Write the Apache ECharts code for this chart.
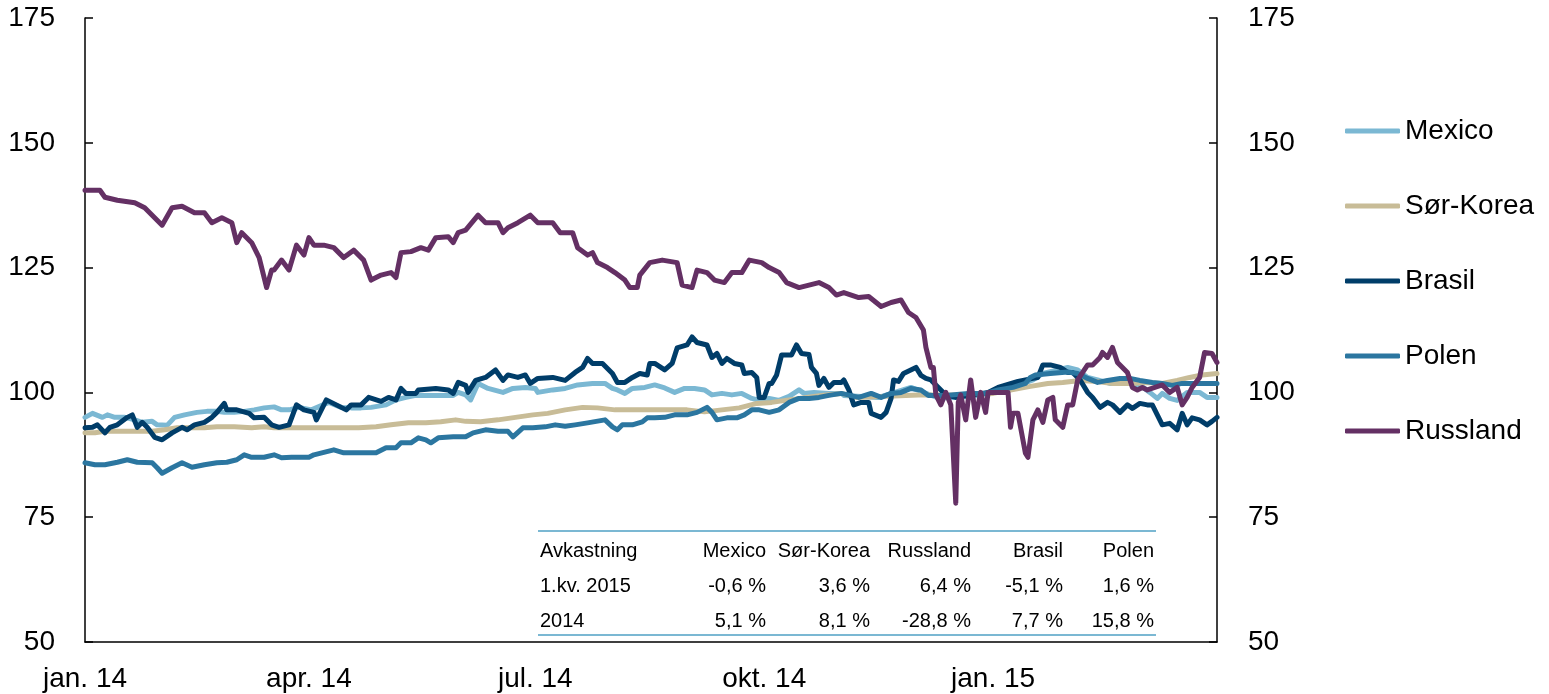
<!DOCTYPE html>
<html lang="no">
<head>
    <meta charset="UTF-8">
    <title>Aksjeindekser fremvoksende økonomier</title>
    <script src="https://cdn.jsdelivr.net/npm/echarts@6/dist/echarts.min.js"></script>
</head>
<style>
    html, body{
        margin:0;
        padding:0;
        background:#fff;
    }
    #main{
        width:1549px;
        height:694px;
    }
</style>
<body>
<div id="main"></div>
</body>
<script>
    // dager etter 1.1.2014, indeks
    var mexico = [[0,95],[3,95.8],[7,95],[9,95.5],[12,95],[16,95],[20,94.5],[23,94],[27,94.2],[29,93.5],[33,93.4],[36,95],[40,95.5],[45,96],[49,96.2],[53,96.2],[56,96],[60,96],[64,96.2],[68,96.5],[72,96.9],[76,97.1],[79,96.5],[82,96.5],[86,97],[91,96.5],[98,98],[103,97],[107,96.9],[111,96.9],[115,97],[121,97.5],[125,98.5],[129,99],[133,99.4],[138,99.4],[143,99.4],[148,99.4],[150,100],[153,99.5],[155,98.5],[158,101.8],[162,100.8],[168,100],[172,100.8],[177,101],[181,100.8],[182,100],[188,100.5],[193,100.8],[198,101.5],[204,101.8],[209,101.8],[212,100.8],[214,100.5],[217,99.8],[220,100.8],[225,101],[229,101.5],[233,100.9],[237,100],[241,100.8],[245,100.8],[249,100.5],[252,99.5],[256,99.8],[260,99.5],[264,99.8],[268,98.8],[271,98.4],[275,98.8],[279,98.4],[283,99.2],[287,100.5],[289,99.8],[293,100],[299,99.8],[304,99.8],[305,99.4],[319,99],[332,101],[338,99.8],[343,98.9],[350,99],[359,99.4],[366,100],[373,101],[381,102.5],[385,103.8],[391,104.5],[395,105],[399,104.5],[403,103],[407,102.5],[412,101.8],[420,101.8],[424,101.5],[428,100],[431,98.8],[433,99.8],[436,98.8],[439,98.4],[443,100],[448,100],[451,99],[455,99]];
    var sorKorea = [[0,91.9],[4,91.9],[8,92.2],[13,92.2],[20,92.2],[27,92.2],[32,92.5],[37,92.9],[43,92.9],[48,92.9],[53,93.1],[60,93.1],[67,92.9],[72,93.1],[76,92.9],[83,92.9],[90,92.9],[96,92.9],[103,92.9],[110,92.9],[117,93.1],[123,93.5],[130,93.9],[137,93.9],[143,94.1],[149,94.5],[153,94.2],[159,94.1],[166,94.5],[173,95],[180,95.5],[186,95.8],[193,96.5],[200,97],[206,96.9],[213,96.5],[220,96.5],[229,96.5],[236,96.5],[242,96.5],[249,96.1],[256,96.5],[263,96.9],[270,97.8],[276,98],[283,98.5],[290,99],[296,99.4],[304,99.8],[310,99],[320,99.2],[335,99.5],[350,99.5],[365,99.8],[380,101.2],[387,101.8],[393,102],[400,102.4],[407,102.2],[413,101.8],[420,101.8],[427,102],[433,101.8],[439,102.4],[444,103],[449,103.5],[455,103.8]];
    var brasil = [[0,92.9],[3,93],[5,93.5],[8,91.9],[10,93],[13,93.5],[17,95],[19,95.5],[21,93],[23,94],[25,93],[28,91],[31,90.5],[35,91.9],[39,93],[41,92.5],[44,93.5],[48,94],[51,95],[53,96],[56,97.8],[57,96.5],[61,96.5],[66,95.8],[68,94.9],[72,95],[75,93.5],[78,93],[82,93.5],[85,97.5],[88,96.5],[92,96],[93,94.5],[97,98.5],[101,97.5],[105,96.5],[107,97.5],[111,97.5],[114,99],[119,98.2],[122,99],[125,98.5],[127,100.8],[129,99.8],[133,99.8],[134,100.5],[141,100.8],[146,100.5],[148,99.8],[150,102],[153,101.4],[154,100],[157,102.4],[161,103],[165,104.5],[168,102.4],[170,103.5],[174,103],[177,103.5],[179,101.8],[182,102.8],[188,103],[193,102.4],[197,104],[200,105],[202,106.8],[204,105.8],[208,105.8],[212,103.8],[214,102],[217,102],[220,103],[223,103.8],[226,103.5],[227,105.8],[229,105.8],[233,104.5],[236,105.8],[238,108.9],[242,109.5],[244,111.1],[246,110],[250,109.5],[252,107],[254,107.8],[256,105.8],[258,106.8],[261,105.8],[264,105.5],[265,103.8],[268,104],[270,103],[271,99],[273,99],[275,101.8],[276,101.8],[278,103.5],[280,107.5],[284,107.5],[286,109.5],[288,107.8],[291,107.6],[292,105],[294,103.8],[295,101.4],[297,102.8],[299,101],[301,102],[304,102],[305,102.5],[307,100.5],[309,97.5],[312,98],[315,98],[316,95.8],[320,95],[322,96],[324,98.8],[325,102.5],[327,102.2],[329,103.8],[334,105],[336,103.4],[338,102.8],[340,102.5],[343,101],[346,99.5],[350,99],[357,99.5],[363,100],[367,101],[375,102.2],[381,102.8],[383,103],[385,105.5],[388,105.5],[392,105],[395,104],[397,104],[400,102.5],[403,100],[405,99],[408,97],[411,98],[413,97.5],[416,96],[419,97.5],[421,96.8],[424,97.8],[427,97.5],[429,97.5],[431,95.5],[433,93.5],[436,93.8],[439,92.5],[441,95.8],[443,93.5],[445,94.9],[448,94.5],[451,93.5],[453,94.2],[455,95]];
    var polen = [[0,85.9],[4,85.5],[8,85.5],[13,86],[17,86.5],[21,86],[27,85.9],[29,84.9],[31,83.8],[35,84.9],[39,85.9],[43,85],[48,85.5],[53,85.9],[57,86],[61,86.5],[64,87.5],[67,87],[72,87],[76,87.5],[79,86.9],[83,87],[90,87],[92,87.5],[96,88],[100,88.5],[104,87.9],[110,87.9],[117,87.9],[121,88.9],[125,88.9],[127,89.9],[131,89.9],[134,90.9],[137,90.5],[139,89.9],[142,90.9],[148,91.1],[153,91.1],[156,91.9],[161,92.5],[166,92.2],[170,92.2],[172,91.1],[176,92.9],[180,92.9],[185,93.1],[189,93.5],[193,93.2],[197,93.5],[202,93.9],[209,94.5],[212,93.1],[214,92.5],[216,93.5],[220,93.5],[224,94.1],[226,94.9],[229,94.9],[233,95],[237,95.5],[242,95.5],[246,96],[250,97],[252,96],[254,94.5],[258,94.9],[262,94.9],[265,95.5],[268,96.5],[271,96.5],[275,96],[279,96.5],[283,98],[287,98.8],[291,98.8],[295,99],[299,99.4],[304,99.8],[311,99],[316,99.8],[320,99],[324,99.8],[328,100],[332,100.8],[336,100.5],[339,99.4],[346,99.4],[355,99.8],[362,99.8],[367,100.5],[373,101],[378,101.8],[380,103],[382,103.5],[388,103.8],[395,104.1],[399,103.8],[403,102.8],[407,102],[411,102.4],[416,102.8],[420,102.8],[424,102.4],[429,102],[433,101.8],[437,101.4],[441,101.8],[447,101.8],[452,101.8],[455,101.8]];
    var russland = [[0,140.5],[6,140.5],[8,139.1],[13,138.5],[20,138],[24,137],[31,133.5],[35,137],[39,137.3],[44,136],[48,136],[51,134],[55,135],[59,134],[61,130],[63,132],[67,130],[70,127],[73,121],[75,124.5],[76,124.5],[79,126.5],[82,124.5],[85,129.5],[88,127.5],[90,131],[92,129.5],[96,129.5],[100,129],[104,127],[108,128.5],[112,126.5],[115,122.5],[119,123.5],[123,124],[125,123],[127,128],[131,128.2],[135,129],[138,128.5],[141,131],[146,131.2],[148,130],[150,132],[153,132.5],[158,135.5],[161,134],[166,134],[168,132],[170,133],[174,134],[179,135.5],[182,134],[188,134],[191,132],[196,132],[198,129],[202,127.5],[204,128],[206,126],[210,125],[213,124],[217,122.5],[219,121],[222,121],[223,123.5],[227,126],[232,126.5],[238,126],[240,121.5],[244,121],[246,124.5],[250,124],[253,122.5],[257,122],[260,124],[264,124],[267,126.5],[272,126],[275,125],[279,124],[282,122],[287,121],[291,121.5],[295,122],[299,121],[302,119.5],[305,120],[311,119],[315,119.2],[320,117.2],[324,118],[328,118.5],[331,116],[334,115],[337,112.5],[338,109],[340,105],[341,105],[342,99.5],[344,97.5],[346,100],[348,97.5],[350,77.8],[351,98],[352,99.5],[354,94.5],[356,102.5],[358,95],[360,100],[362,96],[363,100],[371,100],[372,93],[373,95.8],[375,95.8],[378,87.8],[379,87],[381,94.5],[383,96.5],[385,94],[387,98.5],[389,99],[390,94.5],[393,93],[395,97.5],[397,97.5],[399,102.5],[401,104],[403,105.5],[405,105.5],[408,107],[409,108],[411,107],[413,109],[415,106],[419,104],[421,101],[423,100.5],[425,101],[427,100.5],[430,101],[433,101.5],[436,100],[439,101],[441,97.5],[443,99],[445,101],[448,103],[450,108],[453,107.8],[455,106]];

    var seriesNames = ['Mexico', 'Sør-Korea', 'Brasil', 'Polen', 'Russland'];
    var seriesData = [mexico, sorKorea, brasil, polen, russland];
    var seriesColors = ['#7bb8d3', '#c8bc97', '#003d69', '#2b76a0', '#643064'];

    // dag nr. for 1.1.14, 1.4.14, 1.7.14, 1.10.14, 1.1.15
    var xTickDays = [0, 90, 181, 273, 365];
    var xTickLabels = ['jan. 14', 'apr. 14', 'jul. 14', 'okt. 14', 'jan. 15'];

    var tableHeader = ['Avkastning', 'Mexico', 'Sør-Korea', 'Russland', 'Brasil', 'Polen'];
    var tableRows = [
        ['1.kv. 2015', '-0,6 %', '3,6 %', '6,4 %', '-5,1 %', '1,6 %'],
        ['2014', '5,1 %', '8,1 %', '-28,8 %', '7,7 %', '15,8 %']
    ];

    var font = '"Liberation Sans", Arial, sans-serif';

    var series = [];
    for (var i = 0; i < seriesNames.length; i++) {
        series.push({
            name: seriesNames[i],
            type: 'line',
            symbol: 'none',
            color: seriesColors[i],
            lineStyle: {width: 5, join: 'round', cap: 'round'},
            data: seriesData[i],
            z: 2 + i
        });
    }

    // tabellen nede til hoyre
    var colRight = [0, 766, 870, 971, 1063, 1154];
    var rowY = [551, 586, 621];
    var graphics = [
        {type: 'line', shape: {x1: 538, y1: 531, x2: 1156, y2: 531}, style: {stroke: '#7bb8d3', lineWidth: 2}},
        {type: 'line', shape: {x1: 538, y1: 635, x2: 1156, y2: 635}, style: {stroke: '#7bb8d3', lineWidth: 2}}
    ];
    var allRows = [tableHeader].concat(tableRows);
    for (var r = 0; r < allRows.length; r++) {
        for (var c = 0; c < allRows[r].length; c++) {
            graphics.push({
                type: 'text',
                x: c === 0 ? 540 : colRight[c],
                y: rowY[r],
                style: {
                    text: allRows[r][c],
                    fill: '#000',
                    font: '20px ' + font,
                    textAlign: c === 0 ? 'left' : 'right',
                    textVerticalAlign: 'middle'
                },
                z: 20
            });
        }
    }

    function yAxis(pos, margin) {
        return {
            type: 'value',
            position: pos,
            min: 50,
            max: 175,
            interval: 25,
            splitLine: {show: false},
            axisLine: {show: true, lineStyle: {color: '#000', width: 1.5}},
            axisTick: {show: true, inside: true, length: 8, lineStyle: {color: '#000', width: 1.5}},
            axisLabel: {color: '#000', fontSize: 28, fontFamily: font, margin: margin}
        };
    }

    var myChart = echarts.init(document.getElementById('main'));
    myChart.setOption({
        animation: false,
        backgroundColor: '#fff',
        grid: {left: 85, right: 332, top: 18, bottom: 52},
        legend: {
            orient: 'vertical',
            left: 1340,
            top: 112,
            itemWidth: 55,
            itemHeight: 5,
            itemGap: 47,
            icon: 'roundRect',
            textStyle: {color: '#000', fontSize: 28, fontFamily: font},
            data: seriesNames
        },
        xAxis: {
            type: 'value',
            min: 0,
            max: 455,
            splitLine: {show: false},
            axisLine: {show: true, lineStyle: {color: '#000', width: 1.5}},
            axisTick: {show: false},
            axisLabel: {
                color: '#000',
                fontSize: 28,
                fontFamily: font,
                margin: 23,
                customValues: xTickDays,
                formatter: function (v) {
                    var k = xTickDays.indexOf(v);
                    return k >= 0 ? xTickLabels[k] : '';
                }
            }
        },
        yAxis: [yAxis('left', 30), yAxis('right', 31)],
        series: series,
        graphic: graphics
    });
</script>
</html>
